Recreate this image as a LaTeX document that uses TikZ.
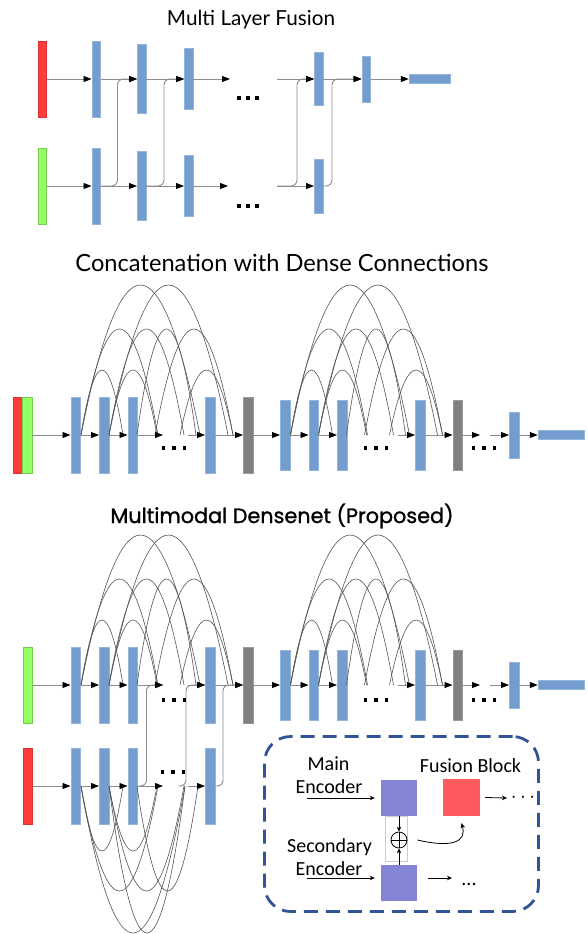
\documentclass[tikz,border=0pt]{standalone}
\usepackage{fontspec}
\usepackage{graphicx}
\usetikzlibrary{arrows.meta}
\newfontfamily\ttlfont{Lato}
\newfontfamily\propfont{Poppins}[FakeBold=1.2]
\newfontfamily\calfont{Carlito}
\definecolor{barblue}{RGB}{114,157,206}
\definecolor{bargrey}{RGB}{128,128,128}
\definecolor{inred}{RGB}{255,59,59}
\definecolor{ingreen}{RGB}{146,255,98}
\definecolor{boxpurple}{RGB}{132,132,214}
\definecolor{boxred}{RGB}{255,90,94}
\definecolor{dashblue}{RGB}{47,85,151}
\definecolor{linegrey}{RGB}{140,140,140}
\definecolor{arcgrey}{RGB}{85,85,85}
\newcommand\dArc[4]{%
 \pgfmathsetmacro\dS{#1}\pgfmathsetmacro\dE{#2}%
 \pgfmathsetmacro\dAx{\dS+(\dE-\dS)/3}%
 \pgfmathsetmacro\dBx{\dE-(\dE-\dS)/3}%
 \pgfmathsetmacro\dYy{#3-4*(#4)/3}%
 \draw[arcln] (\dS,#3) .. controls (\dAx,\dYy) and (\dBx,\dYy) .. (\dE,#3);}
\newcommand\threedots[4]{%
 \foreach \k in {-1,0,1} {\fill (#1+\k*#3-#4,#2-#4) rectangle ++(2*#4,2*#4);}}
\begin{document}
\begin{tikzpicture}[x=1pt,y=-1pt,
  bar/.style={rectangle, fill=barblue, draw=barblue!75!white, line width=0.5pt, inner sep=0pt, minimum width=9.5pt},
  tbar/.style={bar, minimum width=8.5pt},
  gbar/.style={bar, fill=bargrey, draw=bargrey!80!white},
  arr/.style={draw=linegrey, line width=0.9pt, -{Triangle[length=8pt,width=6pt,color=black]}},
  fus/.style={arr, rounded corners=6pt},
  arcln/.style={draw=arcgrey, line width=0.6pt},
  ibox/.style={rectangle, inner sep=0pt, minimum width=36pt, minimum height=36pt},
  iarr/.style={draw=black, line width=0.8pt, -{Stealth[length=5pt,width=4.5pt]}},
  itext/.style={font=\calfont\fontsize{20}{22}\selectfont, inner sep=0pt, anchor=base}]
\useasboundingbox (0,0) rectangle (587,934);
\fill[white] (0,0) rectangle (587,934);

% ---------------- Multi Layer Fusion ----------------
\node[anchor=base, inner sep=0pt] (title1) at (251,26) {\resizebox{168pt}{!}{\ttlfont Multi Layer Fusion}};
\node[tbar, fill=inred, draw=inred!85!black, minimum height=76pt] (tr) at (42,79) {};
\node[tbar, fill=ingreen, draw=ingreen!80!black, minimum height=76pt] (tg) at (42,186) {};
\node[tbar, minimum height=76pt] (t1) at (96,79) {};
\node[tbar, minimum height=69pt] (t2) at (141.5,79) {};
\node[tbar, minimum height=61pt] (t3) at (188.5,79) {};
\node[tbar, minimum height=53pt] (t4) at (318.5,79) {};
\node[tbar, minimum height=46pt] (t5) at (366,79) {};
\node[tbar, minimum width=41pt, minimum height=9pt] (tout) at (429.5,79) {};
\node[tbar, minimum height=76pt] (c1) at (96,186) {};
\node[tbar, minimum height=69pt] (c2) at (141.5,186) {};
\node[tbar, minimum height=61pt] (c3) at (188.5,186) {};
\node[tbar, minimum height=54pt] (c4) at (318.5,186) {};
\coordinate (tE) at (230,79);
\coordinate (tS) at (277,79);
\coordinate (bE) at (228,186);
\coordinate (bS) at (277,186);
\draw[arr] (tr.east) -- (t1.west);
\draw[arr] (t1.east) -- (t2.west);
\draw[arr] (t2.east) -- (t3.west);
\draw[arr] (t3.east) -- (tE);
\draw[arr] (tS) -- (t4.west);
\draw[arr] (t4.east) -- (t5.west);
\draw[arr] (t5.east) -- (tout.west);
\draw[arr] (tg.east) -- (c1.west);
\draw[arr] (c1.east) -- (c2.west);
\draw[arr] (c2.east) -- (c3.west);
\draw[arr] (c3.east) -- (bE);
\draw[arr] (bS) -- (c4.west);
\draw[fus] (c1.east) -- ++(17,0) |- (t2.west);
\draw[fus] (c2.east) -- ++(18,0) |- (t3.west);
\draw[fus] (bS) -- ++(20,0) |- (t4.west);
\draw[fus] (c4.east) -- ++(9,0) |- (t5.west);
\threedots{248}{98}{9}{2}
\threedots{248}{206}{9}{2}

% ---------------- Concatenation ----------------
\node[anchor=base, inner sep=0pt] (title2) at (282,271) {\resizebox{413pt}{!}{\ttlfont Concatenation with Dense Connections}};
\node[bar, fill=inred, draw=inred!85!black, minimum width=9pt, minimum height=76pt] (mr) at (17.5,435) {};
\node[bar, fill=ingreen, draw=ingreen!80!black, minimum width=10pt, minimum height=76pt] (mg) at (27,435) {};
\node[bar, minimum height=76pt] (m1) at (75.5,435) {};
\node[bar, minimum height=76pt] (m2) at (104,435) {};
\node[bar, minimum height=76pt] (m3) at (132.5,435) {};
\node[bar, minimum height=76pt] (m5) at (210,435) {};
\node[gbar, minimum height=76pt] (mgr1) at (248,435) {};
\node[bar, minimum height=70pt] (m6) at (285,435) {};
\node[bar, minimum height=70pt] (m7) at (313.5,435) {};
\node[bar, minimum height=70pt] (m8) at (342,435) {};
\node[bar, minimum height=70pt] (m9) at (420,435) {};
\node[gbar, minimum height=70pt] (mgr2) at (457.5,435) {};
\node[bar, minimum height=46pt] (msm) at (514,435) {};
\node[bar, minimum width=46pt, minimum height=9pt] (mout) at (561,435) {};
\coordinate (md1e) at (163,435);
\coordinate (md1s) at (188,435);
\coordinate (md2s) at (398,435);
\coordinate (md3e) at (480,435);
\coordinate (md3s) at (490,435);
\foreach \s in {0,209.5} {
  \foreach \a/\b/\h in {81/123/65, 109/157/65, 180/233/65, 81/158/106, 109/184/106, 137/196/106, 155/233/106, 81/200/150, 109/228/150}
    {\dArc{\a+\s}{\b+\s}{435}{\h}}
}
\draw[arr] (mg.east) -- (m1.west);
\draw[arr] (m1.east) -- (m2.west);
\draw[arr] (m2.east) -- (m3.west);
\draw[arr] (m3.east) -- (md1e);
\draw[arr] (md1s) -- (m5.west);
\draw[arr] (m5.east) -- (mgr1.west);
\draw[arr] (mgr1.east) -- (m6.west);
\draw[arr] (m6.east) -- (m7.west);
\draw[arr] (m7.east) -- (m8.west);
\draw[arr] (md2s) -- (m9.west);
\draw[arr] (m9.east) -- (mgr2.west);
\draw[arr] (mgr2.east) -- (md3e);
\draw[arr] (md3s) -- (msm.west);
\draw[arr] (msm.east) -- (mout.west);
\threedots{174}{448}{10.5}{1.7}
\threedots{376}{448}{10.5}{1.7}
\threedots{484}{448}{10.5}{1.7}

% ---------------- Multimodal Densenet ----------------
\node[anchor=base, inner sep=0pt] (title3) at (282,523) {\resizebox{343pt}{!}{\propfont Multimodal Densenet (Proposed)}};
\node[bar, fill=ingreen, draw=ingreen!80!black, minimum height=76pt] (ug) at (27.5,685) {};
\node[bar, minimum height=76pt] (u1) at (75.5,685) {};
\node[bar, minimum height=76pt] (u2) at (104,685) {};
\node[bar, minimum height=76pt] (u3) at (132.5,685) {};
\node[bar, minimum height=76pt] (u5) at (210,685) {};
\node[gbar, minimum height=76pt] (ugr1) at (248,685) {};
\node[bar, minimum height=70pt] (u6) at (285,685) {};
\node[bar, minimum height=70pt] (u7) at (313.5,685) {};
\node[bar, minimum height=70pt] (u8) at (342,685) {};
\node[bar, minimum height=70pt] (u9) at (420,685) {};
\node[gbar, minimum height=70pt] (ugr2) at (457.5,685) {};
\node[bar, minimum height=46pt] (usm) at (514,685) {};
\node[bar, minimum width=46pt, minimum height=9pt] (uout) at (561,685) {};
\node[bar, fill=inred, draw=inred!85!black, minimum height=76pt] (lr) at (27.5,786) {};
\node[bar, minimum height=76pt] (l1) at (75.5,786) {};
\node[bar, minimum height=76pt] (l2) at (104,786) {};
\node[bar, minimum height=76pt] (l3) at (132.5,786) {};
\node[bar, minimum height=76pt] (l5) at (210,786) {};
\coordinate (ud1e) at (163,685);
\coordinate (ud1s) at (188,685);
\coordinate (ud2s) at (398,685);
\coordinate (ud3e) at (480,685);
\coordinate (ud3s) at (490,685);
\coordinate (ld1e) at (163,786);
\coordinate (ld1s) at (188,786);
\coordinate (lf2) at (178,786);
\foreach \s in {0,209.5} {
  \foreach \a/\b/\h in {81/123/65, 109/157/65, 180/233/65, 81/158/106, 109/184/106, 137/196/106, 155/233/106, 81/200/150, 109/228/150}
    {\dArc{\a+\s}{\b+\s}{685}{\h}}
}
\foreach \a/\b/\h in {81/123/-65, 109/157/-65, 81/158/-105, 109/184/-105, 137/198/-105, 81/185/-147, 109/185/-147}
  {\dArc{\a}{\b}{786}{\h}}
\draw[arr] (ug.east) -- (u1.west);
\draw[arr] (u1.east) -- (u2.west);
\draw[arr] (u2.east) -- (u3.west);
\draw[arr] (u3.east) -- (ud1e);
\draw[arr] (ud1s) -- (u5.west);
\draw[arr] (u5.east) -- (ugr1.west);
\draw[arr] (ugr1.east) -- (u6.west);
\draw[arr] (u6.east) -- (u7.west);
\draw[arr] (u7.east) -- (u8.west);
\draw[arr] (ud2s) -- (u9.west);
\draw[arr] (u9.east) -- (ugr2.west);
\draw[arr] (ugr2.east) -- (ud3e);
\draw[arr] (ud3s) -- (usm.west);
\draw[arr] (usm.east) -- (uout.west);
\draw[arr] (lr.east) -- (l1.west);
\draw[arr] (l1.east) -- (l2.west);
\draw[arr] (l2.east) -- (l3.west);
\draw[arr] (l3.east) -- (ld1e);
\draw[arr] (ld1s) -- (l5.west);
\draw[fus] (l3.east) -- ++(9,0) |- (ud1e);
\draw[fus] (lf2) -- ++(8,0) |- (u5.west);
\draw[fus] (l5.east) -- ++(8,0) |- (ugr1.west);
\threedots{174}{700}{10.5}{1.7}
\threedots{376}{700}{10.5}{1.7}
\threedots{484}{700}{10.5}{1.7}
\threedots{173}{772}{10.5}{1.7}

% ---------------- Inset ----------------
\node[draw=dashblue, line width=2.8pt, dash pattern=on 14pt off 8pt, rounded corners=26pt,
      minimum width=274pt, minimum height=175pt, inner sep=0pt] (inset) at (401.5,824) {};
\node[ibox, fill=boxpurple] (mainbox) at (399,798) {};
\node[ibox, fill=boxred, minimum width=37pt, minimum height=37pt] (fusbox) at (461.5,797.5) {};
\node[ibox, fill=boxpurple] (secbox) at (399,883) {};
\node[draw=black!20, line width=0.5pt, inner sep=0pt, minimum width=22pt, minimum height=45pt] (opbox) at (396,839) {};
\node[draw=black, line width=0.8pt, circle, inner sep=0pt, minimum size=16pt] (op) at (399,840) {};
\draw[line width=0.8pt] (op.north) -- (op.south) (op.west) -- (op.east);
\draw[iarr] (mainbox.south) -- (op.north);
\draw[iarr] (secbox.north) -- (op.south);
\draw[iarr] ([xshift=10pt]op.east) .. controls (452,848) and (467,842) .. ([yshift=-7pt]fusbox.south);
\coordinate (mainin) at (307,798);
\coordinate (secin) at (307,878);
\draw[iarr] (mainin) -- ([xshift=-6pt]mainbox.west);
\draw[iarr] (secin) -- ([xshift=-6pt,yshift=5pt]secbox.west);
\coordinate (fusout) at (507,798);
\coordinate (secout) at (452,878);
\draw[iarr] ([xshift=5pt]fusbox.east) -- (fusout);
\draw[iarr] ([xshift=11pt,yshift=5pt]secbox.east) -- (secout);
\node[itext, anchor=center] (fdots) at (523,798) {$\cdots$};
\node[itext] (sdots) at (469,885) {...};
\node[itext] (tmain) at (328.5,770) {Main};
\node[itext] (tenc1) at (329,793) {Encoder};
\node[itext] (tfus) at (470.5,772) {Fusion Block};
\node[itext] (tsec) at (329.5,852) {Secondary};
\node[itext] (tenc2) at (329,875) {Encoder};
\end{tikzpicture}
\end{document}
